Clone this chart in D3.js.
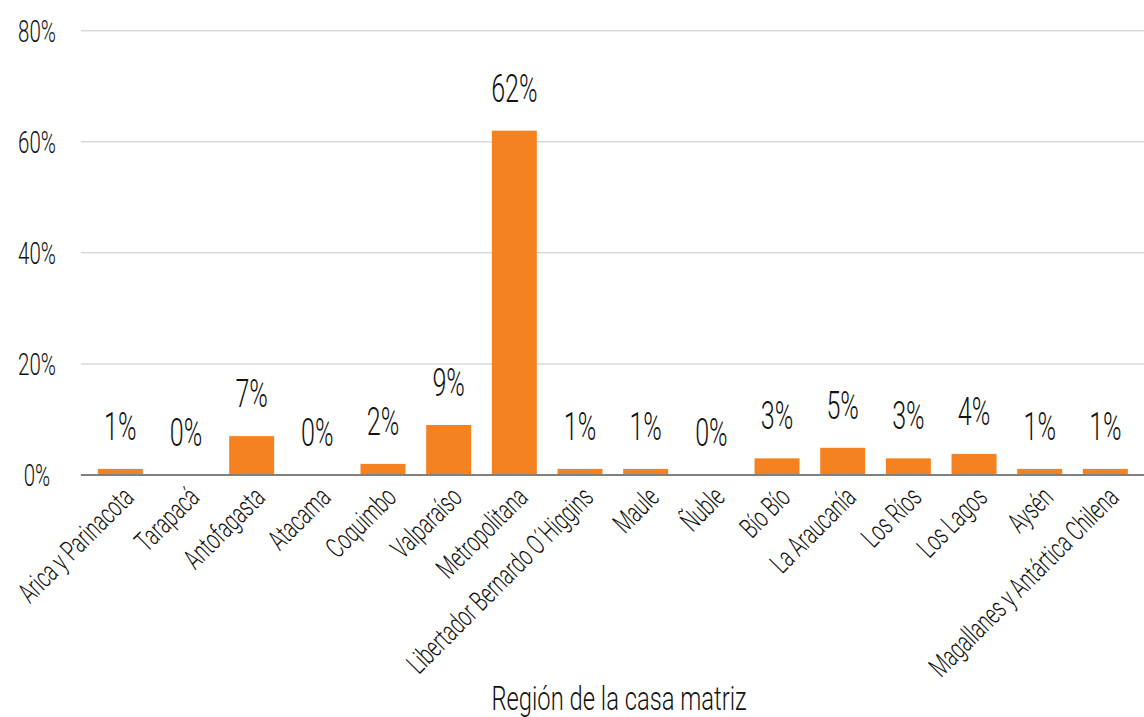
<!DOCTYPE html>
<html>
<head>
<meta charset="utf-8">
<script src="https://cdn.jsdelivr.net/npm/d3@7"></script>
<style>
  body { margin: 0; background: #fff; }
  text { font-family: Roboto, "Noto Sans", sans-serif; font-weight: 300; fill: #111; }
</style>
</head>
<body>
<div id="chart"></div>
<script>
// regions (categories) and share of head offices per region, in %
var regions = ["Arica y Parinacota", "Tarapacá", "Antofagasta", "Atacama", "Coquimbo", "Valparaíso",
    "Metropolitana", "Libertador Bernardo O´Higgins", "Maule", "Ñuble", "Bío Bío", "La Araucanía",
    "Los Ríos", "Los Lagos", "Aysén", "Magallanes y Antártica Chilena"];
var shares = [1.1, 0, 7.0, 0, 2.0, 9.0, 62.0, 1.1, 1.1, 0, 3.0, 4.9, 3.0, 3.8, 1.1, 1.1];
var yTicks = [0, 20, 40, 60, 80];
var axisTitle = "Región de la casa matriz";

var width = 1144;
var height = 717;
var squeeze = 0.66; // condensed look of the original typeface

var svg = d3.select("#chart")
    .append("svg")
    .attr("width", width)
    .attr("height", height);

var x = d3.scaleBand()
    .domain(regions)
    .range([87.5, 1138.2])
    .paddingInner(0.315)
    .paddingOuter(0.1575);

var y = d3.scaleLinear()
    .domain([0, 80])
    .range([475, 30.7]);

// gridlines
svg.selectAll(".grid")
    .data(yTicks.filter(function (d) { return d > 0; }))
    .enter()
    .append("line")
    .attr("class", "grid")
    .attr("x1", 81)
    .attr("x2", width)
    .attr("y1", function (d) { return y(d); })
    .attr("y2", function (d) { return y(d); })
    .style("stroke", "#d9d9d9")
    .style("stroke-width", 1.5);

// y labels
svg.selectAll(".ylab")
    .data(yTicks)
    .enter()
    .append("text")
    .attr("class", "ylab")
    .attr("transform", function (d) { return "translate(37," + y(d) + ") scale(" + squeeze + ",1)"; })
    .attr("dy", "0.36em")
    .style("text-anchor", "middle")
    .style("font-size", "31px")
    .text(function (d) { return d + "%"; });

// bars
svg.selectAll(".bar")
    .data(shares)
    .enter()
    .append("rect")
    .attr("class", "bar")
    .attr("x", function (d, i) { return x(regions[i]); })
    .attr("width", x.bandwidth())
    .attr("y", function (d) { return y(d); })
    .attr("height", function (d) { return y(0) - y(d); })
    .style("fill", "#f58220");

// baseline
svg.append("line")
    .attr("x1", 81)
    .attr("x2", width)
    .attr("y1", y(0))
    .attr("y2", y(0))
    .style("stroke", "#808080")
    .style("stroke-width", 2);

// value labels
svg.selectAll(".val")
    .data(shares)
    .enter()
    .append("text")
    .attr("class", "val")
    .attr("transform", function (d, i) {
        return "translate(" + (x(regions[i]) + x.bandwidth() / 2) + "," + (y(d) - 29) + ") scale(" + squeeze + ",1)";
    })
    .style("text-anchor", "middle")
    .style("font-size", "38px")
    .text(function (d) { return Math.round(d) + "%"; });

// category axis
var xAxis = svg.append("g")
    .attr("transform", "translate(0," + y(0) + ")")
    .call(d3.axisBottom(x).tickSize(0).tickPadding(0));
xAxis.select(".domain").remove();
xAxis.selectAll("text")
    .attr("x", null)
    .attr("y", null)
    .attr("dy", null)
    .attr("transform", "translate(15,24) rotate(-45) scale(0.66,1)")
    .style("text-anchor", "end")
    .style("font-family", "Roboto, 'Noto Sans', sans-serif")
    .style("font-weight", 300)
    .style("font-size", "28.5px")
    .style("fill", "#111");

// axis title
svg.append("text")
    .attr("transform", "translate(619,710) scale(0.72,1)")
    .style("text-anchor", "middle")
    .style("font-size", "33px")
    .text(axisTitle);
</script>
</body>
</html>
